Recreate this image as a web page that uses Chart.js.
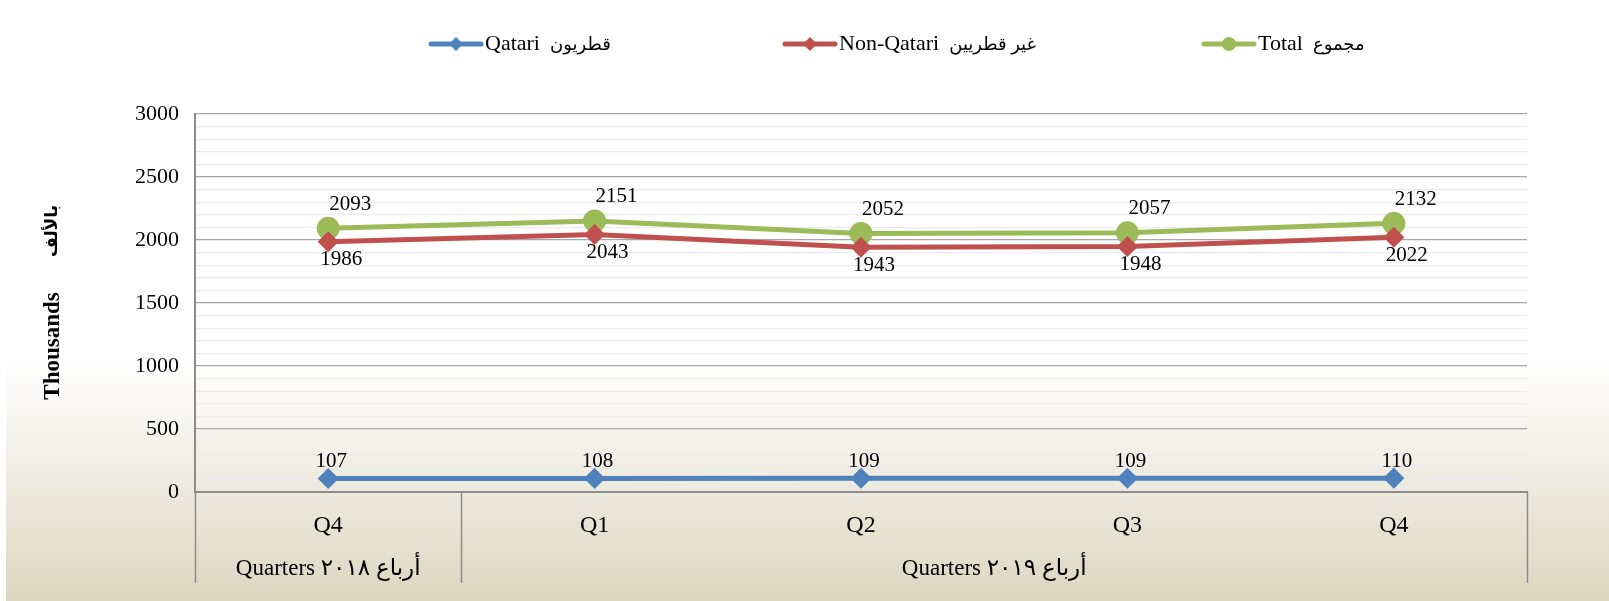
<!DOCTYPE html>
<html>
<head>
<meta charset="utf-8">
<script src="https://cdn.jsdelivr.net/npm/chart.js@4.4.1/dist/chart.umd.min.js"></script>
<style>
  html, body { margin: 0; padding: 0; background: #fff; }
  #wrap { width: 1609px; height: 601px; }
</style>
</head>
<body>
<div id="wrap"><canvas id="chart"></canvas></div>
<script>
// chart data
const quarters = ["Q4", "Q1", "Q2", "Q3", "Q4"];
const yearGroups = ["Quarters أرباع ٢٠١٨", "Quarters أرباع ٢٠١٩"];
const yearGroupSizes = [1, 4];
const qatari = [107, 108, 109, 109, 110];
const nonQatari = [1986, 2043, 1943, 1948, 2022];
const total = [2093, 2151, 2052, 2057, 2132];
const seriesNames = ["Qatari", "Non-Qatari", "Total"];
const seriesNamesAr = ["قطريون", "غير قطريين", "مجموع"];
const yTitle = "Thousands";
const yTitleAr = "بالألف";
const yMax = 3000;
const majorStep = 500;
const minorStep = 100;

const FONT = "'Liberation Serif', 'Times New Roman', 'DejaVu Sans', serif";
const colors = ["#4F81BD", "#C0504D", "#9BBB59"];

// background gradient like the office chart area
const bgPlugin = {
  id: "bg",
  beforeDraw(chart) {
    const { ctx, width, height } = chart;
    const g = ctx.createLinearGradient(0, 0, 0, height);
    g.addColorStop(0, "#FFFFFF");
    g.addColorStop(0.6, "#FFFFFF");
    g.addColorStop(1, "#DCD7C1");
    ctx.save();
    ctx.fillStyle = "#FFFFFF";
    ctx.fillRect(0, 0, width, height);
    ctx.fillStyle = g;
    ctx.fillRect(6, 0, width - 6, height);
    ctx.restore();
  },
};

function marker(ctx, style, x, y, r, color) {
  ctx.fillStyle = color;
  ctx.beginPath();
  if (style === "circle") {
    ctx.arc(x, y, r, 0, Math.PI * 2);
  } else {
    ctx.moveTo(x, y - r);
    ctx.lineTo(x + r, y);
    ctx.lineTo(x, y + r);
    ctx.lineTo(x - r, y);
    ctx.closePath();
  }
  ctx.fill();
}

// legend drawn by hand: line with marker, then english + arabic text
const legendX = [429, 783, 1202];
const legendPlugin = {
  id: "lineLegend",
  afterDraw(chart) {
    const { ctx } = chart;
    const y = 44;
    ctx.save();
    chart.data.datasets.forEach((ds, i) => {
      const x = legendX[i];
      ctx.strokeStyle = ds.borderColor;
      ctx.lineWidth = 5;
      ctx.lineCap = "round";
      ctx.beginPath();
      ctx.moveTo(x + 2, y);
      ctx.lineTo(x + 52, y);
      ctx.stroke();
      marker(ctx, ds.pointStyle, x + 27, y, 7, ds.borderColor);
      ctx.fillStyle = "#000";
      ctx.textAlign = "left";
      ctx.textBaseline = "middle";
      ctx.font = "22px " + FONT;
      ctx.fillText(ds.label, x + 56, y);
      const w = ctx.measureText(ds.label).width;
      ctx.font = "18px " + FONT;
      ctx.fillText(seriesNamesAr[i], x + 56 + w + 10, y + 1);
    });
    ctx.restore();
  },
};

// rotated y title
const yTitlePlugin = {
  id: "yTitle",
  afterDraw(chart) {
    const { ctx } = chart;
    ctx.save();
    ctx.translate(53, 0);
    ctx.rotate(-Math.PI / 2);
    ctx.fillStyle = "#000";
    ctx.textAlign = "center";
    ctx.textBaseline = "middle";
    ctx.font = "bold 23px " + FONT;
    ctx.fillText(yTitle, -346, 0);
    ctx.font = "bold 17px " + FONT;
    ctx.fillText(yTitleAr, -231, 0);
    ctx.restore();
  },
};

// value labels next to each point
const labelOffsets = [[3, -17], [13, 18], [22, -24]];
const valueLabelPlugin = {
  id: "valueLabels",
  afterDatasetsDraw(chart) {
    const { ctx } = chart;
    ctx.save();
    ctx.font = "21px " + FONT;
    ctx.fillStyle = "#000";
    ctx.textAlign = "center";
    ctx.textBaseline = "middle";
    chart.data.datasets.forEach((ds, i) => {
      const meta = chart.getDatasetMeta(i);
      meta.data.forEach((pt, j) => {
        ctx.fillText(String(ds.data[j]), pt.x + labelOffsets[i][0], pt.y + labelOffsets[i][1]);
      });
    });
    ctx.restore();
  },
};

// second level of x axis: year groups with separators
const groupAxisPlugin = {
  id: "groupAxis",
  afterDraw(chart) {
    const { ctx, chartArea } = chart;
    const xs = chart.scales.x;
    const step = xs.getPixelForValue(1) - xs.getPixelForValue(0);
    const bottom = chartArea.bottom;
    ctx.save();
    ctx.strokeStyle = "#8C8C8C";
    ctx.lineWidth = 1.5;
    ctx.font = "23px " + FONT;
    ctx.fillStyle = "#000";
    ctx.textAlign = "center";
    ctx.textBaseline = "middle";
    let start = 0;
    const edges = [xs.getPixelForValue(0) - step / 2];
    yearGroupSizes.forEach((n, g) => {
      const x0 = xs.getPixelForValue(start) - step / 2;
      const x1 = xs.getPixelForValue(start + n - 1) + step / 2;
      edges.push(x1);
      ctx.fillText(yearGroups[g], (x0 + x1) / 2, bottom + 77);
      start += n;
    });
    edges.forEach((x) => {
      ctx.beginPath();
      ctx.moveTo(Math.round(x) + 0.5, bottom);
      ctx.lineTo(Math.round(x) + 0.5, bottom + 91);
      ctx.stroke();
    });
    ctx.restore();
  },
};

const datasets = [
  { label: seriesNames[0], data: qatari, borderColor: colors[0], backgroundColor: colors[0], pointStyle: "rectRot", pointRadius: 7, pointHoverRadius: 7, borderWidth: 5 },
  { label: seriesNames[1], data: nonQatari, borderColor: colors[1], backgroundColor: colors[1], pointStyle: "rectRot", pointRadius: 7, pointHoverRadius: 7, borderWidth: 5 },
  { label: seriesNames[2], data: total, borderColor: colors[2], backgroundColor: colors[2], pointStyle: "circle", pointRadius: 9, pointHoverRadius: 9, borderWidth: 5 },
];

new Chart(document.getElementById("chart"), {
  type: "line",
  data: { labels: quarters, datasets: datasets },
  plugins: [bgPlugin, legendPlugin, yTitlePlugin, valueLabelPlugin, groupAxisPlugin],
  options: {
    responsive: true,
    maintainAspectRatio: false,
    animation: false,
    layout: { padding: { top: 114, right: 82, left: 0, bottom: 0 } },
    elements: { line: { tension: 0 }, point: { borderWidth: 0 } },
    plugins: {
      legend: { display: false },
      tooltip: { enabled: false },
    },
    scales: {
      x: {
        offset: true,
        grid: { display: false, drawTicks: false },
        border: { color: "#8C8C8C", width: 2 },
        ticks: { color: "#000", font: { family: FONT, size: 24 }, padding: 19 },
        afterFit(scale) { scale.height = 109; },
      },
      y: {
        min: 0,
        max: yMax,
        ticks: {
          stepSize: minorStep,
          autoSkip: false,
          maxTicksLimit: 100,
          color: "#000",
          font: { family: FONT, size: 22 },
          padding: 16,
          callback: (v) => (v % majorStep === 0 ? v : ""),
        },
        grid: {
          drawTicks: false,
          color: (c) => (c.tick && c.tick.value % majorStep === 0 ? (c.tick.value === 0 ? "#8C8C8C" : "#A6A6A6") : "#EBEBEB"),
          lineWidth: (c) => (c.tick && c.tick.value === 0 ? 2 : 1.3),
        },
        border: { color: "#8C8C8C", width: 2 },
        afterFit(scale) { scale.width = 195; },
      },
    },
  },
});
</script>
</body>
</html>
